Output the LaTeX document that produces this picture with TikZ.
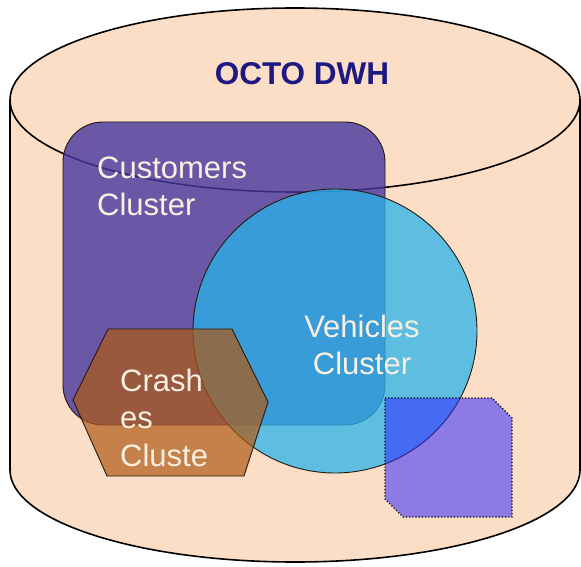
\documentclass[tikz,border=0pt]{standalone}
\usepackage{fontspec}
\setmainfont{Liberation Sans}
\usepackage{tikz}
\usetikzlibrary{positioning}
\definecolor{peach}{RGB}{252,222,198}
\definecolor{custfill}{RGB}{70,55,160}
\definecolor{vehfill}{RGB}{40,180,235}
\definecolor{crashfill}{RGB}{175,90,20}
\definecolor{otherfill}{RGB}{50,40,255}
\definecolor{navy}{RGB}{30,25,130}
\definecolor{cream}{RGB}{250,240,225}

\begin{document}
\begin{tikzpicture}[x=1pt, y=-1pt,
    big/.style={font=\fontsize{31}{37.5}\selectfont, text=cream, inner sep=0pt},
    cluster/.style={draw=black!80!brown, line width=0.9pt, fill opacity=#1},
    cluster/.default=0.75]
  \def\rx{285} \def\ry{92}
  \useasboundingbox (0,0) rectangle (581,567);
  % database body
  \fill[peach] (10,100) -- (10,470) arc[start angle=180, end angle=360, x radius=\rx, y radius=-\ry]
    -- (580,100) arc[start angle=0, end angle=180, x radius=\rx, y radius=-\ry] -- cycle;
  \draw[line width=1.6pt] (10,100) -- (10,470) arc[start angle=180, end angle=360, x radius=\rx, y radius=-\ry] -- (580,100);
  \draw[line width=1.6pt] (295,100) ellipse[x radius=\rx, y radius=\ry];
  \node[font=\bfseries\fontsize{31.5}{36}\selectfont, text=navy, inner sep=0pt, anchor=base] (title) at (302,85) {OCTO DWH};
  % clusters
  \draw[cluster=0.8, fill=custfill, rounded corners=40pt] (63,122) rectangle (385,425);
  \draw[cluster, fill=vehfill] (335,331) circle[radius=142];
  \draw[cluster=0.7, fill=crashfill] (108,329) -- (232,329) -- (268,402) -- (244,476) -- (107,476) -- (73,400) -- cycle;
  \draw[fill=otherfill, fill opacity=0.55, dotted, line width=1.2pt] (385,398) -- (492,398) -- (512,418) -- (512,517) -- (403,517) -- (385,499) -- cycle;
  % labels (base = last line)
  \node[big, align=left, anchor=base west] (custtxt) at (97,215.5) {Customers\\Cluster};
  \node[big, align=center, anchor=base] (vehtxt) at (362,374.5) {Vehicles\\Cluster};
  \node[big, align=left, anchor=base west] (crashtxt) at (120,466) {Crash\\es\\Cluste};
\end{tikzpicture}
\end{document}
